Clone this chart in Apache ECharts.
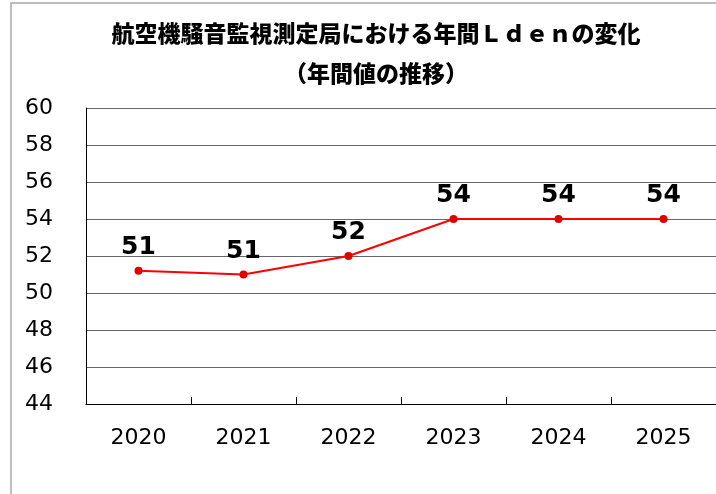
<!DOCTYPE html>
<html>
<head>
<meta charset="utf-8">
<title>航空機騒音監視測定局における年間Ｌｄｅｎの変化</title>
<script src="https://cdn.jsdelivr.net/npm/echarts@6/dist/echarts.min.js"></script>
<style>
    html, body { margin: 0; padding: 0; background: #fff; }
    #frame {
        position: absolute; left: 10px; top: 2px; width: 706px; height: 492px;
        border-left: 2px solid #bdbdbd; border-top: 2px solid #bdbdbd;
    }
    #chart { position: absolute; left: 0; top: 0; width: 716px; height: 494px; }
</style>
</head>
<body>
<div id="frame"></div>
<div id="chart"></div>
<script>
    // データ
    var years = ['2020', '2021', '2022', '2023', '2024', '2025'];
    var lden = [51.2, 51.0, 52.0, 54.0, 54.0, 54.0];

    var chart = echarts.init(document.getElementById('chart'));

    var option = {
        animation: false,
        title: {
            text: '航空機騒音監視測定局における年間Ｌｄｅｎの変化\n（年間値の推移）',
            left: 371,
            textAlign: 'center',
            top: 8,
            textStyle: {
                fontFamily: '"Noto Sans CJK JP", sans-serif',
                fontWeight: 900,
                fontSize: 23,
                lineHeight: 40,
                color: '#000'
            }
        },
        grid: { left: 86, top: 108, right: 0, bottom: 90 },
        xAxis: {
            type: 'category',
            data: years,
            boundaryGap: true,
            axisLine: { lineStyle: { color: '#000', width: 1 } },
            axisTick: { show: true, inside: true, length: 7, lineStyle: { color: '#000' } },
            axisLabel: {
                margin: 23,
                fontFamily: '"DejaVu Sans", Verdana, sans-serif',
                fontSize: 22,
                color: '#000'
            }
        },
        yAxis: {
            type: 'value',
            min: 44,
            max: 60,
            interval: 2,
            axisLine: { show: true, lineStyle: { color: '#000', width: 1 } },
            axisTick: { show: false },
            splitLine: { lineStyle: { color: '#666', width: 1 } },
            axisLabel: {
                margin: 33,
                fontFamily: '"DejaVu Sans", Verdana, sans-serif',
                fontSize: 22,
                color: '#000'
            }
        },
        series: [{
            type: 'line',
            data: lden,
            symbol: 'circle',
            symbolSize: 8,
            lineStyle: { color: '#ff0000', width: 2 },
            itemStyle: { color: '#e00000' },
            label: {
                show: true,
                position: 'top',
                distance: 7,
                formatter: function (p) { return Math.round(p.value); },
                fontFamily: '"DejaVu Sans", Verdana, sans-serif',
                fontWeight: 'bold',
                fontSize: 25,
                color: '#000'
            }
        }]
    };

    chart.setOption(option);
</script>
</body>
</html>
